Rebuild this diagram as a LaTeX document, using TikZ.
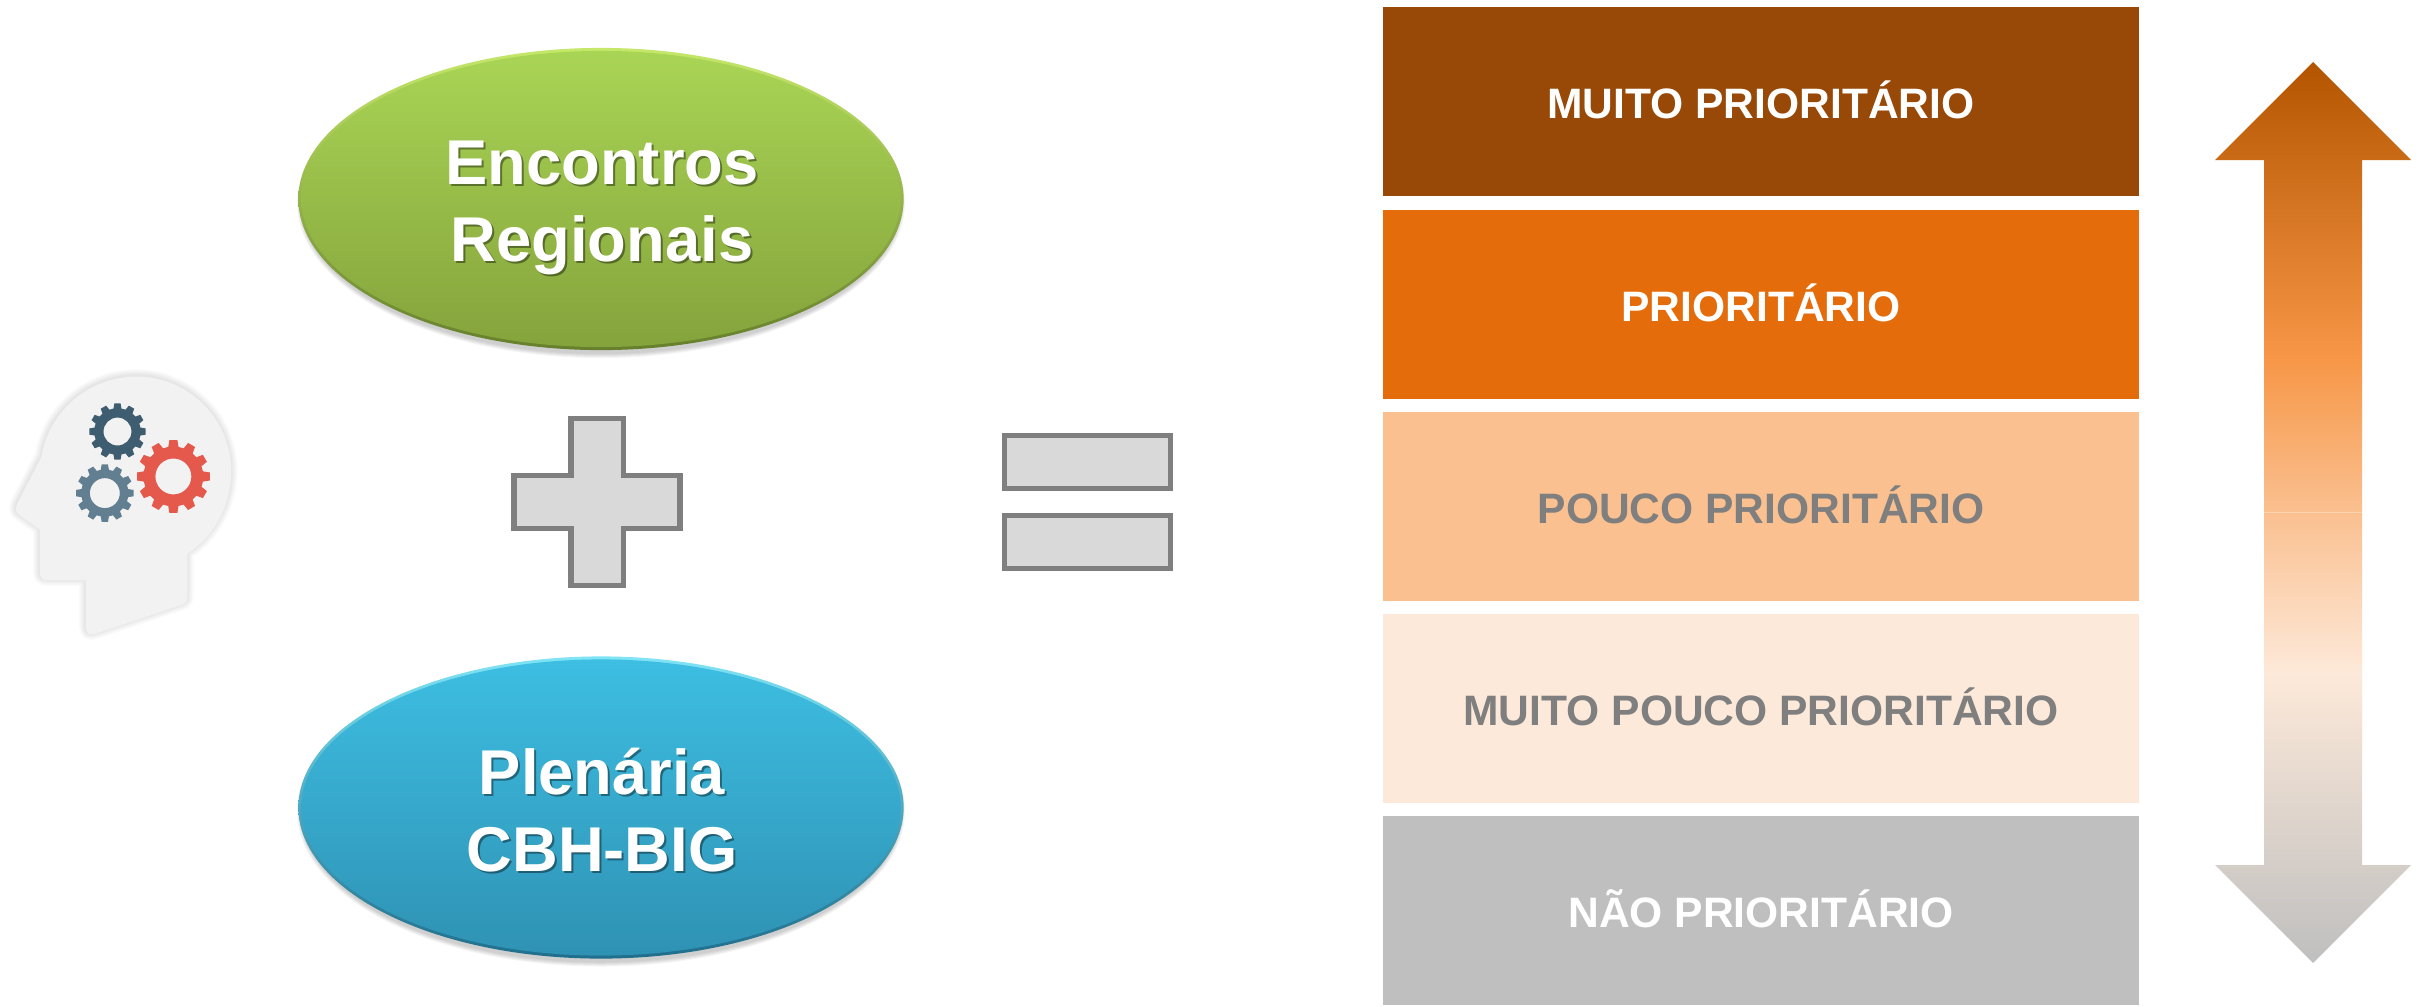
\documentclass[tikz,border=0pt]{standalone}
\usepackage{fontspec}
\setmainfont{Liberation Sans}
\usetikzlibrary{shapes.geometric}
\definecolor{barA}{HTML}{984807}
\definecolor{barB}{HTML}{E46C0A}
\definecolor{barC}{HTML}{FAC090}
\definecolor{barD}{HTML}{FDE9D9}
\definecolor{barE}{HTML}{BFBFBF}
\definecolor{txtgray}{HTML}{7F7F7F}
\definecolor{symfill}{HTML}{D9D9D9}
\definecolor{headfill}{HTML}{F2F2F2}
\definecolor{gearA}{HTML}{3F5D70}
\definecolor{gearB}{HTML}{627F91}
\definecolor{gearC}{HTML}{E5594C}
\definecolor{arrowmid}{HTML}{F79646}
\definecolor{arrowtop}{HTML}{B35500}
\definecolor{arrowseam}{HTML}{FCD3B0}
\definecolor{greenrimT}{HTML}{C5E86A}
\definecolor{greenrimB}{HTML}{657F2C}
\definecolor{greenT}{HTML}{A9D555}
\definecolor{greenB}{HTML}{85A33C}
\definecolor{bluerimT}{HTML}{7FE4F5}
\definecolor{bluerimB}{HTML}{1F6E8C}
\definecolor{blueT}{HTML}{3DBEE2}
\definecolor{blueB}{HTML}{2F92B4}
\pgfdeclareverticalshading{arrowgrad}{100bp}{color(0bp)=(barE); color(25bp)=(barE); color(41.1bp)=(barD); color(50bp)=(barC); color(58.7bp)=(arrowmid); color(75bp)=(arrowtop); color(100bp)=(arrowtop)}
\newcommand{\gearshape}[6]{%
  \fill[#6,even odd rule,shift={(#1,#2)}] ({0.33*360/12}:#4)
    \foreach \i in {1,...,12}{
      -- ({(\i-0.33)*30}:#4) -- ({(\i-0.21)*30}:#3)
      -- ({(\i+0.21)*30}:#3) -- ({(\i+0.33)*30}:#4)
    } -- cycle (0,0) circle (#5);}
\newcommand{\headoutline}{(258,692) -- (258,832) .. controls (258,850) and (268,859) .. (285,853) -- (545,766) .. controls (558,761) and (563,755) .. (563,742) -- (563,612) .. controls (646,560) and (695,463) .. (695,365) .. controls (695,208) and (567,80) .. (410,80) .. controls (270,80) and (147,182) .. (125,320) -- (52,462) .. controls (44,478) and (48,490) .. (60,497) -- (120,540) -- (120,670) .. controls (120,684) and (128,692) .. (142,692) -- cycle}
\tikzset{
  barbox/.style={rectangle,inner sep=0pt,minimum width=7.56cm,minimum height=1.89cm,font=\fontsize{12.1pt}{14pt}\selectfont\bfseries,text height=.33cm,text depth=0pt},
  sym/.style={draw=txtgray,fill=symfill,line width=.055cm,miter limit=10},
  eqbar/.style={sym,rectangle,inner sep=0pt,minimum width=1.662cm,minimum height=.528cm},
  blob/.style={ellipse,inner sep=0pt,minimum width=6.05cm,minimum height=3.02cm},
  blobcore/.style={ellipse,inner sep=0pt,minimum width=5.99cm,minimum height=2.96cm},
  bigtext/.style={align=center,inner sep=0pt,font=\fontsize{18pt}{21.9pt}\selectfont\bfseries},
}
\begin{document}
\begin{tikzpicture}[x=0.01cm,y=-0.01cm]
\useasboundingbox (0,0) rectangle (2425,1006);
\fill[white] (0,0) rectangle (2425,1006);

% head icon
\begin{scope}[shift={(0,350)},x=0.003333cm,y=-0.003333cm,line join=round]
  \foreach \w in {5,4,3,2,1}{
    \draw[black,opacity=.02,line width=\w*.026cm,shift={(-1,-3)}] \headoutline;
  }
  \fill[headfill] \headoutline;
  \gearshape{353}{245}{85}{70}{42}{gearA}
  \gearshape{315}{430}{87}{71}{45}{gearB}
  \gearshape{521}{380}{110}{90}{54}{gearC}
\end{scope}

% ellipses
\foreach \d in {5,4,3,2,1}{
  \fill[black,opacity=.04] (601,203) ellipse ({299+\d} and {150+\d});
  \fill[black,opacity=.04] (601,811.5) ellipse ({299+\d} and {150+\d});
}
\node[blob,top color=greenrimT,bottom color=greenrimB] (encrim) at (601,199) {};
\node[blobcore,top color=greenT,bottom color=greenB] (encbody) at (601,199) {};
\node[blob,top color=bluerimT,bottom color=bluerimB] (plerim) at (601,807.5) {};
\node[blobcore,top color=blueT,bottom color=blueB] (plebody) at (601,807.5) {};
\node[bigtext,text=black,text opacity=.4] (encshadow) at (604,210) {Encontros\\Regionais};
\node[bigtext,text=white] (enc) at (602,208) {Encontros\\Regionais};
\node[bigtext,text=black,text opacity=.4] (pleshadow) at (604,812) {Plenária\\CBH-BIG};
\node[bigtext,text=white] (ple) at (602,810) {Plenária\\CBH-BIG};

% plus and equals
\draw[sym] (571,418.7) -- (623.7,418.7) -- (623.7,475.4) -- (680.2,475.4) -- (680.2,528.6) -- (623.7,528.6) -- (623.7,585.3) -- (571,585.3) -- (571,528.6) -- (514,528.6) -- (514,475.4) -- (571,475.4) -- cycle;
\node[eqbar] (eqtop) at (1087.5,461.9) {};
\node[eqbar] (eqbot) at (1087.5,541.9) {};

% bars
\node[barbox,fill=barA,text=white] (b1) at (1761,101.5) {MUITO PRIORITÁRIO};
\node[barbox,fill=barB,text=white] (b2) at (1761,304.5) {PRIORITÁRIO};
\node[barbox,fill=barC,text=txtgray] (b3) at (1761,506.5) {POUCO PRIORITÁRIO};
\node[barbox,fill=barD,text=txtgray] (b4) at (1761,708.5) {MUITO POUCO PRIORITÁRIO};
\node[barbox,fill=barE,text=white] (b5) at (1761,910.5) {NÃO PRIORITÁRIO};

% double arrow
\path[shading=arrowgrad] (2313,62) -- (2411,160) -- (2362,160) -- (2362,865) -- (2411,865) -- (2313,963) -- (2215,865) -- (2264,865) -- (2264,160) -- (2215,160) -- cycle;
\draw[arrowseam,line width=.006cm] (2264,512) -- (2362,512);
\end{tikzpicture}
\end{document}
